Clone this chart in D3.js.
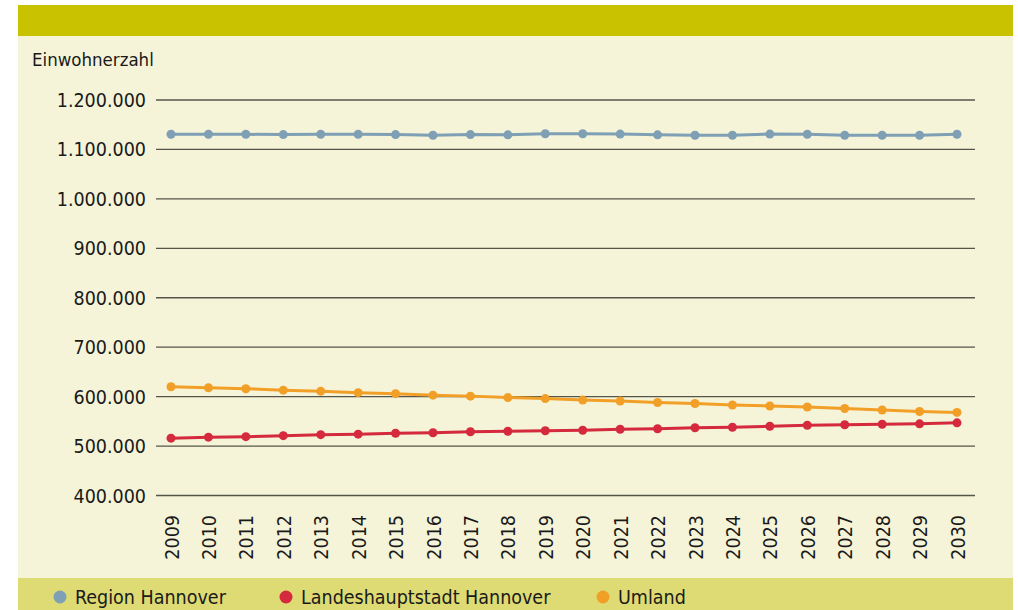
<!DOCTYPE html>
<html lang="de">
<head>
<meta charset="utf-8">
<title>Einwohnerzahl Region Hannover</title>
<script src="https://d3js.org/d3.v7.min.js"></script>
<style>
  body { margin: 0; background: #fff; }
  svg text { font-family: "Liberation Sans Narrow", "DejaVu Sans Condensed", Roboto, sans-serif; fill: #1a1a1a; }
</style>
</head>
<body>
<script>
// data
var years = d3.range(2009, 2031).map(String);
var region = [1129600,1129600,1129600,1129000,1129600,1129600,1129000,1127600,1129000,1128500,1130800,
              1130800,1130000,1128500,1127600,1127600,1130000,1129600,1127600,1127600,1127600,1129600];
var stadt = [515000,517000,518000,520000,522000,523000,525000,526000,528000,529000,530000,
             531000,533000,534000,536000,537000,539000,541000,542000,543000,544000,546000];
var umland = [619000,617000,615000,612000,610000,607000,605000,602000,600000,597000,595000,
              592000,590000,587000,585000,582000,580000,578000,575000,572000,569000,567000];
var yTicks = [400000,500000,600000,700000,800000,900000,1000000,1100000,1200000];
var seriesNames = ["Region Hannover", "Landeshauptstadt Hannover", "Umland"];
var seriesColors = ["#7f9fb4", "#d52a3e", "#f29f27"];

var W = 1018, H = 610;
var svg = d3.select("body").append("svg").attr("width", W).attr("height", H);

// frame: header bar, plot background, legend bar
svg.append("rect").attr("x", 18).attr("y", 36).attr("width", 995).attr("height", 542).attr("fill", "#f5f4d8");
svg.append("rect").attr("x", 18).attr("y", 5).attr("width", 995).attr("height", 31).attr("fill", "#c8c200");
svg.append("rect").attr("x", 18).attr("y", 578).attr("width", 995).attr("height", 32).attr("fill", "#dedb74");

var x = d3.scalePoint().domain(years).range([171, 957]);
var y = d3.scaleLinear().domain([400000, 1200000]).range([495, 99.5]);

var fmt = function(v) { return d3.format(",")(v).replace(/,/g, "."); };

// y axis with gridlines
var yAxis = svg.append("g")
    .attr("transform", "translate(156,0)")
    .call(d3.axisRight(y).tickValues(yTicks).tickSize(819).tickFormat(fmt));
yAxis.select(".domain").remove();
yAxis.selectAll(".tick line").attr("stroke", "#55554a").attr("stroke-width", 1.3);
yAxis.selectAll(".tick text")
    .attr("x", -10).attr("dy", "0.36em")
    .style("text-anchor", "end").style("font-size", "19.5px");

// x axis labels, rotated
var xAxis = svg.append("g")
    .attr("transform", "translate(0,512)")
    .call(d3.axisBottom(x).tickSize(0));
xAxis.select(".domain").remove();
xAxis.selectAll(".tick text")
    .attr("transform", "rotate(-90)")
    .attr("x", -3).attr("y", 0).attr("dy", "0.36em")
    .style("text-anchor", "end").style("font-size", "19.5px");

svg.append("text").attr("x", 32).attr("y", 66).style("font-size", "18.5px").text("Einwohnerzahl");

// lines and dots
var all = [region, stadt, umland];
var line = d3.line().x(function(d, i) { return x(years[i]); }).y(function(d) { return y(d); });
all.forEach(function(vals, k) {
    svg.append("path").datum(vals)
        .attr("d", line).attr("fill", "none")
        .attr("stroke", seriesColors[k]).attr("stroke-width", 3);
    svg.selectAll(".dot" + k).data(vals).enter().append("circle")
        .attr("cx", function(d, i) { return x(years[i]); })
        .attr("cy", function(d) { return y(d); })
        .attr("r", 4.5).attr("fill", seriesColors[k]);
});

// legend
var legX = [60, 286, 603];
seriesNames.forEach(function(n, k) {
    svg.append("circle").attr("cx", legX[k]).attr("cy", 597).attr("r", 6.5).attr("fill", seriesColors[k]);
    svg.append("text").attr("x", legX[k] + 15).attr("y", 604).style("font-size", "19.5px").text(n);
});
</script>
</body>
</html>
